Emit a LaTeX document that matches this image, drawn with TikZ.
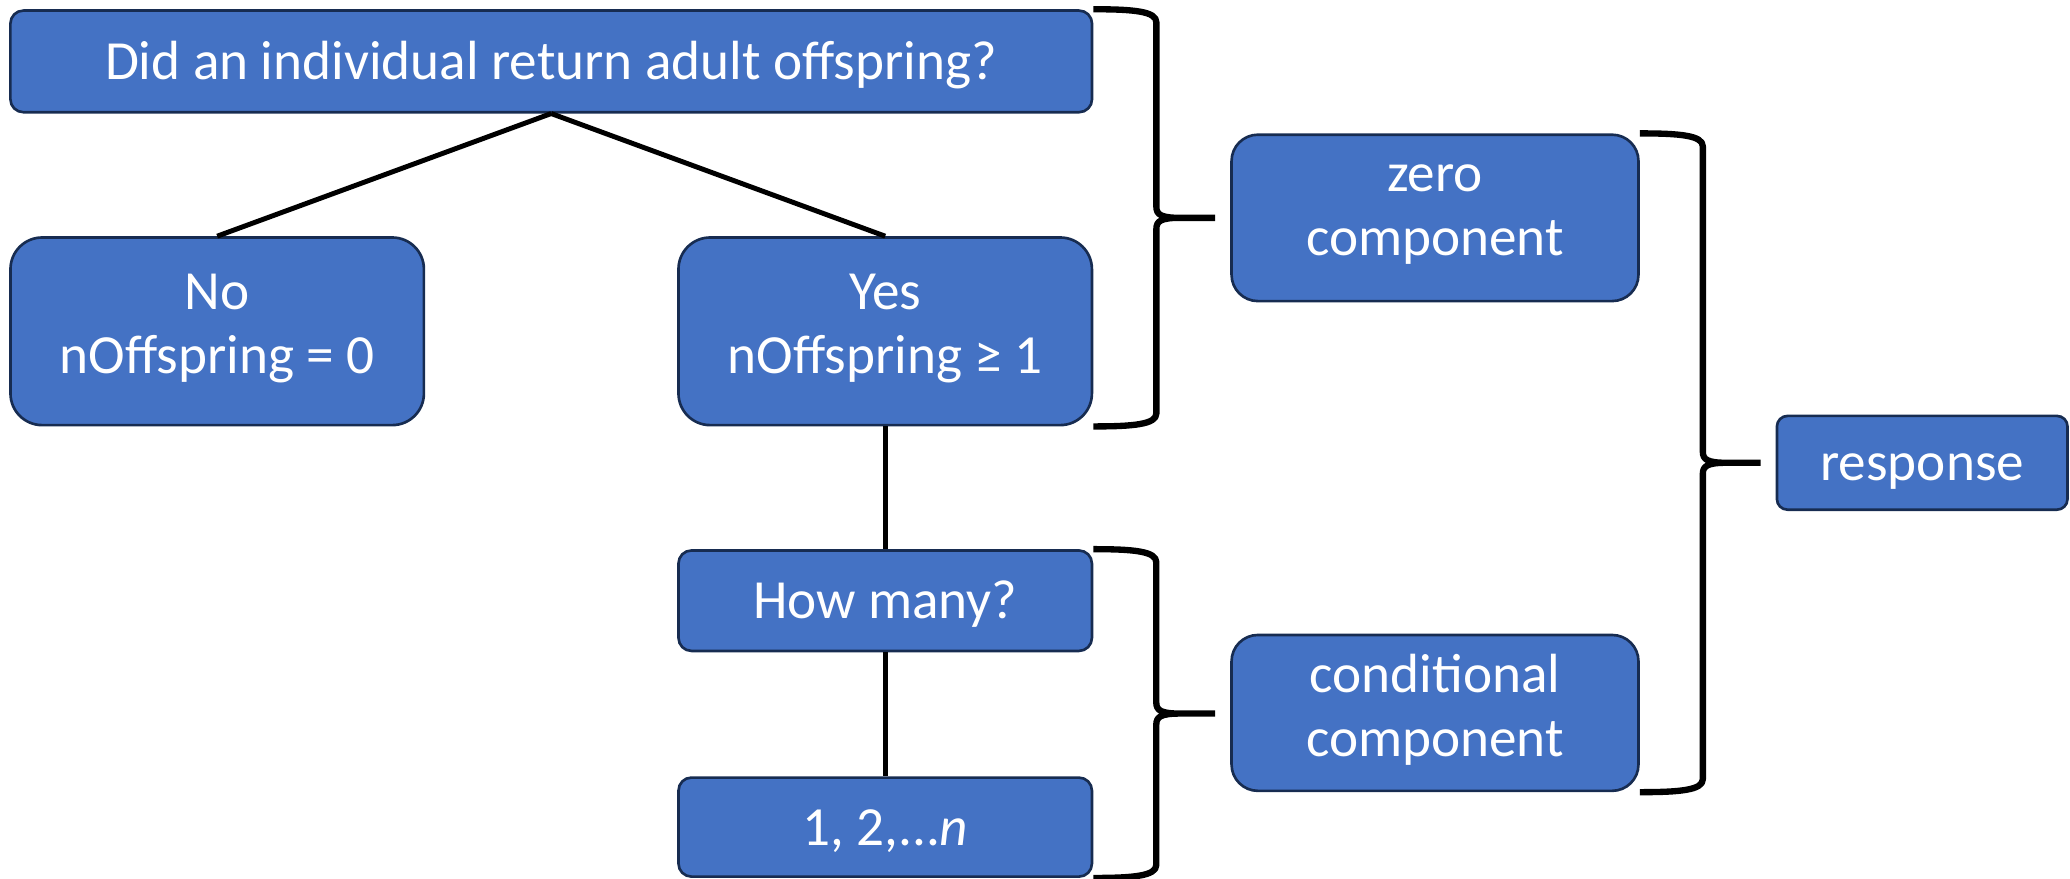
\documentclass[tikz,border=0pt]{standalone}
\usepackage{fontspec}
\setmainfont{Carlito}
\usetikzlibrary{calc}
\definecolor{boxfill}{HTML}{4472C4}
\definecolor{boxline}{HTML}{172C51}
% fixed line ascent and descent, so every label sits the same way in its box
\newcommand\ascentstrut{\rule{0pt}{14.6pt}}
\newcommand\descentstrut{\rule[-4.4pt]{0pt}{4.4pt}}
\tikzset{
  box/.style={draw=boxline, line width=0.75pt, fill=boxfill, text=white,
    font=\fontsize{15.7}{18.1}\selectfont, align=center, inner sep=0pt,
    execute at begin node=\ascentstrut, execute at end node=\descentstrut,
    rounded corners=#1},
  box/.default=4pt,
  link/.style={draw=black, line width=1.4pt},
  bracket/.style={draw=black, line width=1.8pt, line join=round},
}
% curly bracket from the corner #1 down to the corner #2, pointing at node #3
\newcommand\groupbrace[3]{%
  \draw[bracket] let \p1=(#1), \p2=(#2), \p3=(#3.west),
      \n1={\x1+0.63cm}, \n2={\x3-0.15cm}, \n3={(\y1+\y2)/2} in
    (\x1,\y1) .. controls (\x1+0.4cm,\y1) and (\n1,\y1-0.02cm) .. (\n1,\y1-0.13cm)
    -- (\n1,\n3+0.11cm)
    .. controls (\n1,\n3+0.03cm) and (\n1+0.05cm,\n3) .. (\n1+0.24cm,\n3)
    -- (\n2,\n3)
    (\n1+0.24cm,\n3)
    .. controls (\n1+0.05cm,\n3) and (\n1,\n3-0.03cm) .. (\n1,\n3-0.11cm)
    -- (\n1,\y2+0.13cm)
    .. controls (\n1,\y2+0.02cm) and (\x1+0.4cm,\y2) .. (\x2,\y2);
}
\begin{document}
\begin{tikzpicture}[x=0.01cm,y=-0.01cm]
\useasboundingbox (0,0) rectangle (2070,879);

\node[box=3.7pt, minimum width=10.81cm, minimum height=1.016cm] (top) at (551.2,61.4)
  {Did an individual return adult offspring?};
\node[box=9pt, minimum width=4.132cm, minimum height=1.875cm] (no) at (217.2,331.3)
  {No\\nOffspring = 0};
\node[box=9pt, minimum width=4.132cm, minimum height=1.875cm] (yes) at (885.2,331.3)
  {Yes\\nOffspring ≥ 1};
\node[box=3.7pt, minimum width=4.132cm, minimum height=1.004cm] (how) at (885.2,600.7)
  {How many?};
\node[box=3.7pt, minimum width=4.132cm, minimum height=0.99cm] (nums) at (885.2,827.1)
  {1, 2,...\textit{n}};
\node[box=7.5pt, minimum width=4.067cm, minimum height=1.663cm] (zero) at (1435,217.9)
  {zero\\component};
\node[box=7.5pt, minimum width=4.067cm, minimum height=1.558cm] (cond) at (1435,712.9)
  {conditional\\component};
\node[box=3pt, minimum width=2.904cm, minimum height=0.937cm] (resp) at (1922.2,462.8)
  {response};

\draw[link] (top.south) -- (no.north);
\draw[link] (top.south) -- (yes.north);
\draw[link] (yes.south) -- (how.north);
\draw[link] (how.south) -- (nums.north);

\groupbrace{top.north east}{yes.south east}{zero}
\groupbrace{how.north east}{nums.south east}{cond}
\groupbrace{zero.north east}{cond.south east}{resp}
\end{tikzpicture}
\end{document}
